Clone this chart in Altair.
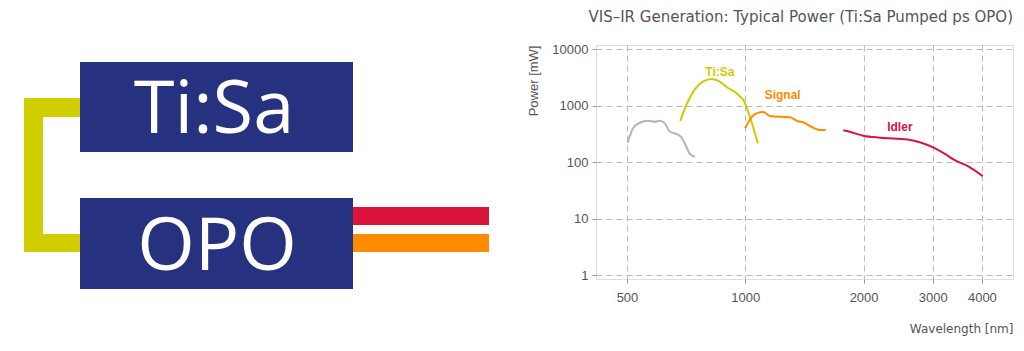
import altair as alt
import pandas as pd

# ---------------- data ----------------
grey_x = [502, 518, 539, 566, 589, 606, 624, 643, 669, 689, 708, 723, 744]
grey_y = [222, 399, 501, 545, 523, 545, 489, 347, 316, 272, 188, 140, 125]

tisa_x = [683, 708, 744, 781, 821, 852, 906, 951, 970, 987, 1010, 1037, 1077]
tisa_y = [537, 1033, 1950, 2700, 2990, 2790, 2040, 1660, 1450, 1300, 903, 523, 216]

signal_x = [999, 1037, 1092, 1111, 1155, 1300, 1361, 1403, 1474, 1548, 1603]
signal_y = [399, 625, 767, 775, 660, 625, 531, 510, 426, 372, 372]

idler_x = [1776, 1843, 1996, 2206, 2587, 2807, 3043, 3236, 3403, 3677, 4017]
idler_y = [368, 347, 295, 272, 254, 222, 176, 138, 110, 86, 57]

series_names = ["SHG", "Ti:Sa", "Signal", "Idler"]
series_colors = ["#b4b4b4", "#cccc00", "#ff8c00", "#dc143c"]

label_text = ["Ti:Sa", "Signal", "Idler"]
label_x = [862, 1245, 2474]
label_y = [3980, 1550, 415]
label_color = ["#cccc00", "#ff8c00", "#dc143c"]

x_ticks = [500, 1000, 2000, 3000, 4000]
y_ticks = [1, 10, 100, 1000, 10000]

# schematic (diagram units)
shape_x0 = [80, 80, 24, 24, 24, 353, 353]
shape_x1 = [353, 353, 43, 80, 80, 489, 489]
shape_y0 = [62, 198, 98, 98, 234, 207, 234]
shape_y1 = [152, 289, 252, 117, 252, 225, 252]
shape_col = ["#263180", "#263180", "#d0ce00", "#d0ce00", "#d0ce00", "#dc143c", "#ff8c00"]

box_text = ["Ti:Sa", "OPO"]
box_tx = [214, 217]
box_ty = [133, 270]

# ---------------- tables ----------------
frames = []
for name, xs, ys in [("SHG", grey_x, grey_y), ("Ti:Sa", tisa_x, tisa_y),
                     ("Signal", signal_x, signal_y), ("Idler", idler_x, idler_y)]:
    frames.append(pd.DataFrame({"wavelength": xs, "power": ys, "series": name}))
df = pd.concat(frames, ignore_index=True)

labels = pd.DataFrame({"text": label_text, "wavelength": label_x, "power": label_y, "col": label_color})
shapes = pd.DataFrame({"x0": shape_x0, "x1": shape_x1, "y0": shape_y0, "y1": shape_y1, "col": shape_col})
btext = pd.DataFrame({"text": box_text, "x": box_tx, "y": box_ty})

FONT = "DejaVu Sans"
LFONT = "Liberation Sans"
PLOT_L, PLOT_T, PLOT_W, PLOT_H = 596, 45, 417, 234

x_scale = alt.Scale(type="log", domain=[417, 4800], nice=False)
y_scale = alt.Scale(type="log", domain=[0.86, 11900], nice=False)

x_axis = alt.Axis(values=x_ticks, title="Wavelength [nm]", titleAnchor="end", titleAlign="right",
                  titlePadding=19, titleFontWeight="normal", titleFontSize=12, titleColor="#555",
                  titleFont=FONT, labelFont=LFONT, labelFontSize=13, labelColor="#555", labelPadding=8,
                  tickColor="#999", tickSize=4, domain=False, grid=True, gridDash=[6, 4],
                  gridColor="#bbbbbb", labelFlush=False, format="d")
y_axis = alt.Axis(values=y_ticks, title="Power [mW]", titleAnchor="end", titlePadding=11,
                  titleFontWeight="normal", titleFontSize=13, titleColor="#555", titleFont=LFONT,
                  labelFont=LFONT, labelFontSize=13, labelColor="#555", labelPadding=4,
                  tickColor="#999", tickSize=4, domain=False, grid=True, gridDash=[6, 4],
                  gridColor="#bbbbbb", labelFlush=False, format="d")

lines = alt.Chart(df).mark_line(strokeWidth=2, interpolate="monotone").encode(
    x=alt.X("wavelength:Q", scale=x_scale, axis=x_axis),
    y=alt.Y("power:Q", scale=y_scale, axis=y_axis),
    color=alt.Color("series:N", scale=alt.Scale(domain=series_names, range=series_colors), legend=None),
)
lbls = alt.Chart(labels).mark_text(font=LFONT, fontSize=12, fontWeight="bold").encode(
    x=alt.X("wavelength:Q", scale=x_scale, axis=x_axis),
    y=alt.Y("power:Q", scale=y_scale, axis=y_axis),
    text="text:N",
    color=alt.Color("col:N", scale=None),
)
plot = alt.layer(lines, lbls).resolve_scale(color="independent")

dx = alt.Scale(domain=[0, 1024], range=[-PLOT_L, 1024 - PLOT_L], nice=False, zero=False)
dy = alt.Scale(domain=[0, 351], range=[-PLOT_T, 351 - PLOT_T], nice=False, zero=False)
rects = alt.Chart(shapes).mark_rect().encode(
    x=alt.X("x0:Q", scale=dx, axis=None), x2="x1:Q",
    y=alt.Y("y0:Q", scale=dy, axis=None), y2="y1:Q",
    color=alt.Color("col:N", scale=None),
)
texts = alt.Chart(btext).mark_text(font="Open Sans", fontSize=74, color="white",
                                   align="center", baseline="alphabetic").encode(
    x=alt.X("x:Q", scale=dx, axis=None),
    y=alt.Y("y:Q", scale=dy, axis=None),
    text="text:N",
)
diagram = alt.layer(rects, texts)

chart = alt.layer(diagram, plot).resolve_scale(x="independent", y="independent", color="independent").properties(
    width=PLOT_W, height=PLOT_H,
    padding={"left": PLOT_L, "top": PLOT_T, "right": 1024 - PLOT_L - PLOT_W, "bottom": 351 - PLOT_T - PLOT_H},
    autosize=alt.AutoSizeParams(type="none"),
    title=alt.TitleParams("VIS\u2013IR Generation: Typical Power (Ti:Sa Pumped ps OPO)", anchor="end",
                          font=FONT, fontSize=15, fontWeight="normal", color="#555", offset=18),
).configure_view(stroke="#999", strokeWidth=1.5).configure(background="white")

chart.save("out.html", embed_options={"renderer": "svg", "actions": False})
